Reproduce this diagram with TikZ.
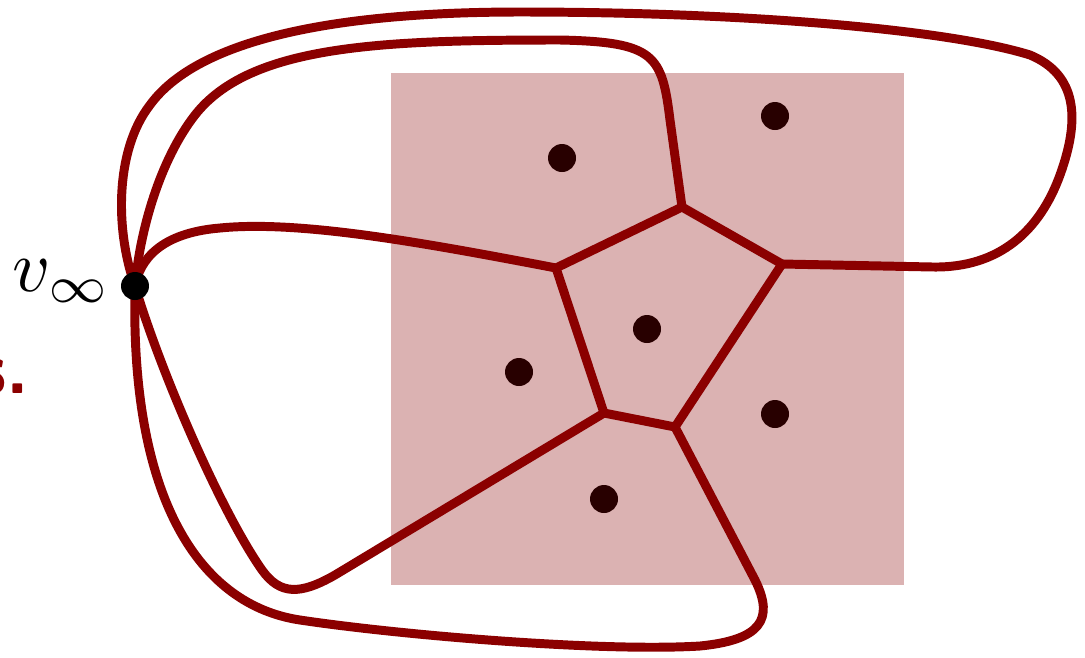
\documentclass[tikz,border=0pt]{standalone}
\usepackage{amsmath,amssymb}
\usepackage{tikz}
\usepackage{xcolor}
\usetikzlibrary{positioning}

\definecolor{edgered}{RGB}{139,0,0}
\definecolor{cellfill}{RGB}{219,178,178}
\definecolor{sitedot}{RGB}{40,0,0}

\begin{document}
\begin{tikzpicture}[x=0.02cm, y=-0.02cm,
    edge/.style={edgered, line width=5.1pt, line join=round, line cap=round},
    site/.style={circle, fill=sitedot, inner sep=0pt, minimum size=0.56cm},
    bigtext/.style={scale=4.2, inner sep=0pt}]
  \useasboundingbox (0,0) rectangle (1085,657);
  % bounded box of the cells
  \fill[cellfill] (391,73) rectangle (904,585);
  % vertices of the central pentagon
  \coordinate (A) at (556,268);
  \coordinate (B) at (682,207);
  \coordinate (C) at (782,264);
  \coordinate (D) at (675,427);
  \coordinate (E) at (604,413);
  % vertex at infinity
  \coordinate (vpos) at (135,286);
  % central cell
  \draw[edge] (A) -- (B) -- (C) -- (D) -- (E) -- cycle;
  % unbounded edges, all closed up at v_infty
  \draw[edge] (A) .. controls (425,243) and (300,220) .. (220,228)
    .. controls (160,233) and (140,260) .. (vpos);
  \draw[edge] (B) -- (670,120) .. controls (662,55) and (655,42) .. (560,40)
    .. controls (380,40) and (250,45) .. (195,115)
    .. controls (160,160) and (140,230) .. (vpos);
  \draw[edge] (C) -- (933,267) .. controls (1000,268) and (1040,230) .. (1060,175)
    .. controls (1080,120) and (1078,75) .. (1030,55)
    .. controls (950,30) and (750,12) .. (520,12)
    .. controls (300,12) and (190,50) .. (150,105)
    .. controls (115,150) and (115,230) .. (vpos);
  \draw[edge] (E) -- (335,575) .. controls (300,595) and (280,595) .. (262,570)
    .. controls (220,510) and (160,370) .. (vpos);
  \draw[edge] (D) -- (755,580) .. controls (775,620) and (760,640) .. (700,646)
    .. controls (600,652) and (400,635) .. (300,620)
    .. controls (200,605) and (130,500) .. (vpos);
  % sites
  \node[site] (s1) at (562,158) {};
  \node[site] (s2) at (775,116) {};
  \node[site] (s3) at (647,329) {};
  \node[site] (s4) at (519,372) {};
  \node[site] (s5) at (775,414) {};
  \node[site] (s6) at (604,499) {};
  % v_infty
  \node[circle, fill=black, inner sep=0pt, minimum size=0.56cm] (vinf) at (vpos) {};
  \node[bigtext, anchor=east] (vlabel) at (112,281) {$v_\infty$};
  \node[bigtext, anchor=base east, text=edgered] (cut) at (31,393) {\sffamily\bfseries s.};
\end{tikzpicture}
\end{document}
